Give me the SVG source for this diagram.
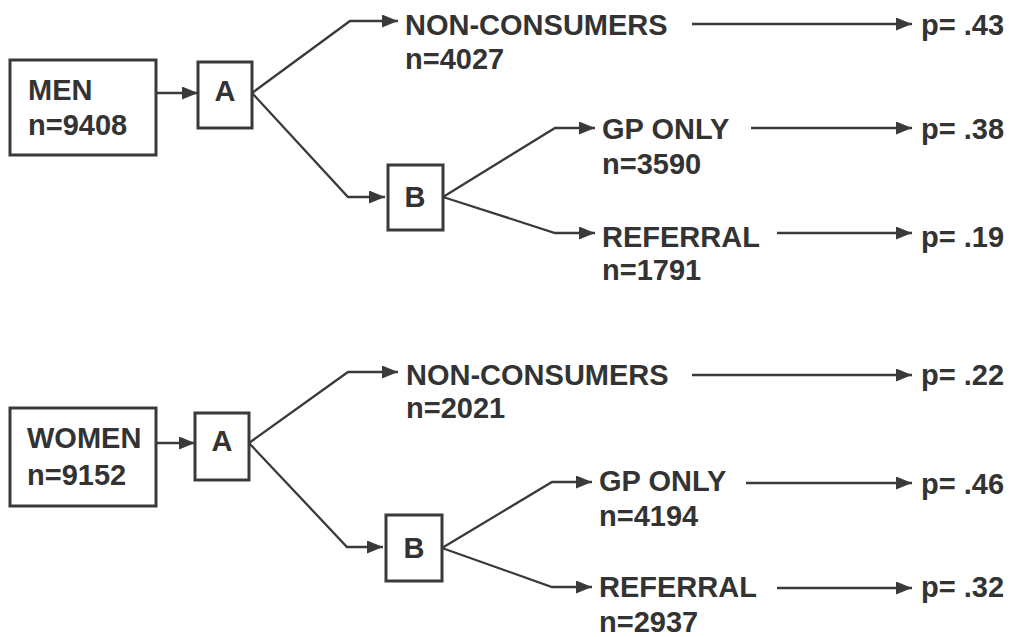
<svg xmlns="http://www.w3.org/2000/svg" width="1015" height="637" viewBox="0 0 1015 637">
  <style>
    .box { fill: #ffffff; stroke: #3a3a3a; stroke-width: 3; }
    .edge { fill: none; stroke: #3a3a3a; stroke-width: 2.3; marker-end: url(#head); }
    text { font-family: "Liberation Sans", Arial, Helvetica, sans-serif; font-weight: bold; font-size: 29px; fill: #333333; }
    .mid { text-anchor: middle; }
  </style>
  <defs>
    <marker id="head" markerUnits="userSpaceOnUse" markerWidth="17" markerHeight="13" refX="16" refY="6.5" orient="auto">
      <path d="M0,0 L16,6.5 L0,13 Z" fill="#3a3a3a"/>
    </marker>
  </defs>
  <rect width="1015" height="637" fill="#ffffff"/>

  <!-- connectors -->
  <g id="connectors">
    <!-- men -->
    <path class="edge" d="M156,93 L198,93"/>
    <path class="edge" d="M252,93 L350,21 L398,21"/>
    <path class="edge" d="M252,93 L348,197 L385,197"/>
    <path class="edge" d="M443,197 L555,128 L595,128"/>
    <path class="edge" d="M443,197 L555,233 L595,233"/>
    <path class="edge" d="M692,24 L912,24"/>
    <path class="edge" d="M751,128 L912,128"/>
    <path class="edge" d="M777,233 L912,233"/>
    <!-- women -->
    <path class="edge" d="M156,443 L195,443"/>
    <path class="edge" d="M249,443 L348,372 L398,372"/>
    <path class="edge" d="M249,443 L347,547 L383,547"/>
    <path class="edge" d="M442,548 L552,482 L592,482"/>
    <path class="edge" d="M442,548 L552,587 L592,587"/>
    <path class="edge" d="M692,375 L912,375"/>
    <path class="edge" d="M746,483 L912,483"/>
    <path class="edge" d="M777,588 L912,588"/>
  </g>

  <!-- men tree -->
  <g id="men">
    <rect class="box" x="10" y="60" width="146" height="95"/>
    <text x="28" y="100">MEN</text>
    <text x="28" y="135">n=9408</text>
  </g>
  <g id="men-a">
    <rect class="box" x="198" y="62" width="54" height="66"/>
    <text class="mid" x="225" y="101">A</text>
  </g>
  <g id="men-b">
    <rect class="box" x="388" y="165" width="55" height="65"/>
    <text class="mid" x="415" y="207">B</text>
  </g>
  <g id="men-nonconsumers">
    <text x="405" y="35">NON-CONSUMERS</text>
    <text x="405" y="69">n=4027</text>
  </g>
  <g id="men-gp">
    <text x="602" y="139">GP ONLY</text>
    <text x="602" y="174">n=3590</text>
  </g>
  <g id="men-referral">
    <text x="602" y="247">REFERRAL</text>
    <text x="602" y="280">n=1791</text>
  </g>
  <g id="men-p">
    <text x="921" y="35">p= .43</text>
    <text x="921" y="139">p= .38</text>
    <text x="921" y="247">p= .19</text>
  </g>

  <!-- women tree -->
  <g id="women">
    <rect class="box" x="10" y="408" width="146" height="98"/>
    <text x="27" y="448">WOMEN</text>
    <text x="27" y="485">n=9152</text>
  </g>
  <g id="women-a">
    <rect class="box" x="195" y="413" width="54" height="67"/>
    <text class="mid" x="222" y="451">A</text>
  </g>
  <g id="women-b">
    <rect class="box" x="386" y="515" width="56" height="66"/>
    <text class="mid" x="414" y="558">B</text>
  </g>
  <g id="women-nonconsumers">
    <text x="406" y="385">NON-CONSUMERS</text>
    <text x="406" y="418">n=2021</text>
  </g>
  <g id="women-gp">
    <text x="599" y="491">GP ONLY</text>
    <text x="599" y="526">n=4194</text>
  </g>
  <g id="women-referral">
    <text x="599" y="597">REFERRAL</text>
    <text x="599" y="632">n=2937</text>
  </g>
  <g id="women-p">
    <text x="921" y="385">p= .22</text>
    <text x="921" y="494">p= .46</text>
    <text x="921" y="597">p= .32</text>
  </g>
</svg>
